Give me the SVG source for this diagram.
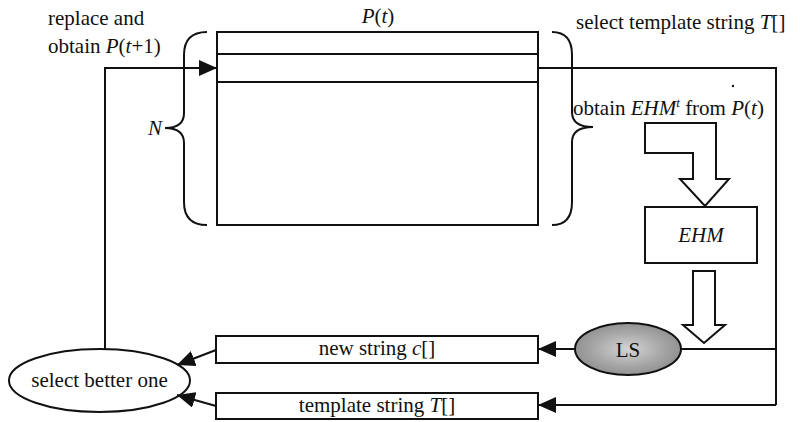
<svg xmlns="http://www.w3.org/2000/svg" width="800" height="422" viewBox="0 0 800 422">
  <defs>
    <style>
      .ln { fill: none; stroke: #111; stroke-width: 2; }
      .box { fill: #fff; stroke: #111; stroke-width: 2; }
      .blk { fill: #fff; stroke: #111; stroke-width: 2; stroke-linejoin: miter; }
      .t { font-family: 'Liberation Serif', 'Times New Roman', 'DejaVu Serif', serif; font-size: 21px; fill: #111; }
      .i { font-style: italic; }
      .arr { fill: none; stroke: #111; stroke-width: 2; marker-end: url(#head); }
    </style>
    <marker id="head" viewBox="0 0 18 16" refX="18" refY="8" markerWidth="18" markerHeight="16" markerUnits="userSpaceOnUse" orient="auto">
      <path d="M0,0 L18,8 L0,16 Z" fill="#111"/>
    </marker>
    <radialGradient id="lsFill" cx="0.5" cy="0.5" r="0.55">
      <stop offset="0" stop-color="#d4d4d4"/>
      <stop offset="0.6" stop-color="#a6a6a6"/>
      <stop offset="1" stop-color="#8c8c8c"/>
    </radialGradient>
  </defs>

  <!-- population P(t) -->
  <g id="population">
    <rect class="box" x="217" y="32" width="321" height="193"/>
    <line class="ln" x1="217" y1="54" x2="538" y2="54"/>
    <line class="ln" x1="217" y1="82" x2="538" y2="82"/>
    <text class="t" x="378" y="23" text-anchor="middle"><tspan class="i">P</tspan>(<tspan class="i">t</tspan>)</text>
  </g>

  <!-- braces around the population -->
  <g id="brace-left">
    <path class="ln" d="M207,32 Q184,32 184,55 V113 Q184,128 165,128 Q184,128 184,143 V202 Q184,225 207,225"/>
    <text class="t i" x="162" y="135" text-anchor="end">N</text>
  </g>
  <g id="brace-right">
    <path class="ln" d="M552,32 Q572,32 572,55 V112 Q572,127 593,127 Q572,127 572,142 V202 Q572,225 552,225"/>
  </g>

  <!-- labels -->
  <g id="label-replace">
    <text class="t" x="48" y="25">replace and</text>
    <text class="t" x="48" y="53">obtain <tspan class="i">P</tspan>(<tspan class="i">t</tspan>+1)</text>
  </g>
  <g id="label-select-template">
    <text class="t" x="576" y="29">select template string <tspan class="i">T</tspan>[]</text>
    <circle cx="733" cy="86" r="1.2" fill="#111"/>
  </g>
  <g id="label-obtain-ehm">
    <text class="t" x="573" y="115">obtain <tspan class="i">EHM</tspan><tspan class="i" font-size="13" dy="-8">t</tspan><tspan dy="8"> from </tspan><tspan class="i">P</tspan>(<tspan class="i">t</tspan>)</text>
  </g>

  <!-- EHM block -->
  <g id="ehm">
    <path class="blk" d="M645,123 H716 V179 H729 L705,206 L680,179 H693 V153 H645 Z"/>
    <rect class="box" x="645" y="207" width="112" height="56"/>
    <text class="t i" x="701" y="242" text-anchor="middle">EHM</text>
    <path class="blk" d="M693,271 H715 V325 H725 L704,343 L683,325 H693 Z"/>
  </g>

  <!-- local search -->
  <g id="ls">
    <ellipse cx="628" cy="349" rx="53" ry="26" fill="url(#lsFill)" stroke="#111" stroke-width="2"/>
    <text class="t" x="628" y="357" text-anchor="middle">LS</text>
  </g>

  <!-- candidate strings -->
  <g id="new-string">
    <rect class="box" x="216" y="336" width="322" height="27"/>
    <text class="t" x="377" y="355" text-anchor="middle">new string <tspan class="i">c</tspan>[]</text>
  </g>
  <g id="template-string">
    <rect class="box" x="216" y="393" width="322" height="26"/>
    <text class="t" x="377" y="412" text-anchor="middle">template string <tspan class="i">T</tspan>[]</text>
  </g>

  <!-- selection -->
  <g id="select-better">
    <ellipse cx="99.5" cy="380.5" rx="90.5" ry="31.5" fill="#fff" stroke="#111" stroke-width="2"/>
    <text class="t" x="99.5" y="387" text-anchor="middle">select better one</text>
  </g>

  <!-- connectors -->
  <g id="connectors">
    <path class="arr" d="M105,349 V68 H217"/>
    <path class="ln" d="M538,68 H776 V405"/>
    <path class="arr" d="M776,405 H538"/>
    <path class="ln" d="M681,349 H776"/>
    <path class="arr" d="M575,349 H538"/>
    <path class="arr" d="M216,350 L177,365"/>
    <path class="arr" d="M216,406 L177,395"/>
  </g>
</svg>
